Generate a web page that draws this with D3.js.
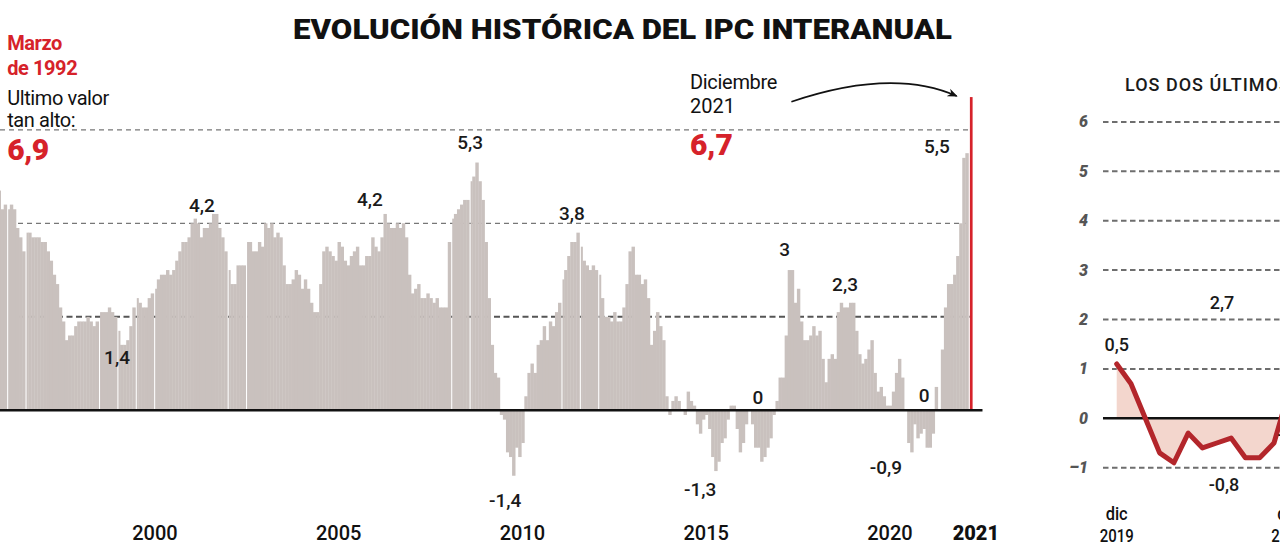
<!DOCTYPE html>
<html><head><meta charset="utf-8">
<script src="https://cdn.jsdelivr.net/npm/d3@7"></script>
<style>
body{margin:0;background:#fff}
svg{display:block}
text{font-family:Roboto,"Liberation Sans",sans-serif}
</style>
</head><body>
<svg id="c" width="1280" height="548"></svg>
<script>
// ---------- DATA (IPC interanual, %, mensual desde julio de 1995) ----------
const firstYear = 1995, firstMonth = 7;
const ipc1995 = [4.7, 4.3, 4.4, 4.3, 4.4, 4.3];
const ipc1996 = [3.9, 3.7, 3.4, 3.8, 3.8, 3.7, 3.7, 3.7, 3.6, 3.6, 3.4, 3.2];
const ipc1997 = [2.9, 2.7, 2.2, 1.9, 1.5, 1.6, 1.6, 1.8, 1.9, 1.9, 1.9, 2.0];
const ipc1998 = [1.9, 1.8, 1.9, 2.1, 2.1, 2.1, 2.2, 2.1, 2.0, 1.7, 1.4, 1.4];
const ipc1999 = [1.5, 1.8, 2.2, 2.4, 2.3, 2.2, 2.2, 2.4, 2.5, 2.6, 2.8, 2.9];
const ipc2000 = [2.9, 3.0, 2.9, 3.0, 3.2, 3.4, 3.6, 3.6, 3.7, 4.0, 4.1, 4.0];
const ipc2001 = [3.7, 3.9, 3.9, 4.0, 4.2, 4.2, 3.9, 3.7, 3.4, 3.0, 2.7, 2.7];
const ipc2002 = [3.1, 3.1, 3.1, 3.6, 3.6, 3.4, 3.4, 3.6, 3.5, 4.0, 3.9, 4.0];
const ipc2003 = [3.7, 3.8, 3.7, 3.1, 2.7, 2.7, 2.8, 3.0, 2.9, 2.6, 2.8, 2.6];
const ipc2004 = [2.3, 2.1, 2.1, 2.7, 3.4, 3.5, 3.4, 3.3, 3.2, 3.6, 3.5, 3.2];
const ipc2005 = [3.1, 3.3, 3.4, 3.5, 3.1, 3.1, 3.3, 3.3, 3.7, 3.5, 3.4, 3.7];
const ipc2006 = [4.2, 4.0, 3.9, 3.9, 4.0, 3.9, 4.0, 3.7, 2.9, 2.5, 2.6, 2.7];
const ipc2007 = [2.4, 2.4, 2.5, 2.4, 2.3, 2.4, 2.2, 2.2, 2.2, 3.6, 4.1, 4.2];
const ipc2008 = [4.3, 4.4, 4.5, 4.5, 4.9, 5.0, 5.3, 4.9, 4.5, 3.6, 2.4, 1.4];
const ipc2009 = [0.8, 0.7, -0.1, -0.2, -0.9, -1.0, -1.4, -0.8, -1.0, -0.7, 0.3, 0.8];
const ipc2010 = [1.0, 0.8, 1.4, 1.5, 1.8, 1.5, 1.9, 1.8, 2.1, 2.3, 2.8, 3.0];
const ipc2011 = [3.3, 3.6, 3.6, 3.8, 3.5, 3.2, 3.1, 3.0, 3.1, 3.0, 2.9, 2.4];
const ipc2012 = [2.0, 2.0, 1.9, 2.1, 1.9, 1.9, 2.2, 2.7, 3.4, 3.5, 2.9, 2.9];
const ipc2013 = [2.7, 2.8, 2.4, 1.4, 1.7, 2.1, 1.8, 1.5, 0.3, -0.1, 0.2, 0.3];
const ipc2014 = [0.2, 0.0, -0.1, 0.4, 0.2, 0.1, -0.3, -0.5, -0.2, -0.1, -0.4, -1.0];
const ipc2015 = [-1.3, -1.1, -0.7, -0.6, -0.2, 0.1, 0.1, -0.4, -0.9, -0.7, -0.3, 0.0];
const ipc2016 = [-0.3, -0.8, -0.8, -1.1, -1.0, -0.8, -0.6, -0.1, 0.2, 0.7, 0.7, 1.6];
const ipc2017 = [3.0, 3.0, 2.3, 2.6, 1.9, 1.5, 1.5, 1.6, 1.8, 1.6, 1.7, 1.1];
const ipc2018 = [0.6, 1.1, 1.2, 1.1, 2.1, 2.3, 2.2, 2.2, 2.3, 2.3, 1.7, 1.2];
const ipc2019 = [1.0, 1.1, 1.3, 1.5, 0.8, 0.4, 0.5, 0.3, 0.1, 0.1, 0.4, 0.8];
const ipc2020 = [1.1, 0.7, 0.0, -0.7, -0.9, -0.3, -0.6, -0.5, -0.4, -0.8, -0.8, -0.5];
const ipc2021 = [0.5, 0.0, 1.3, 2.2, 2.7, 2.7, 2.9, 3.3, 4.0, 5.4, 5.5, 6.7];
// months where the printed columns show a thin white separator
const gapMonths = ["1995-10","1996-04","1998-04","1998-10","1999-04","1999-10","2001-10","2002-04","2007-11","2008-05","2010-11","2011-05","2011-11"];
const gridValues = [2, 4, 6];
const tickYears = [2000, 2005, 2010, 2015, 2020];
const lastYearLabel = "2021";

// inset "los dos últimos años"
const insetValues = [1.1, 0.7, 0.0, -0.7, -0.9, -0.3, -0.6, -0.5, -0.4, -0.8, -0.8, -0.5, 0.5, 0.0, 1.3, 2.2, 2.7, 2.7, 2.9, 3.3, 4.0, 5.4, 5.5, 6.7];
const insetTicks = [-1, 0, 1, 2, 3, 4, 5, 6];
const insetXLabels = [["dic", "2019", 0], ["dic", "2020", 12], ["dic", "2021", 24]];

// ---------- BUILD ----------
const allValues = [].concat(ipc1995, ipc1996, ipc1997, ipc1998, ipc1999, ipc2000, ipc2001, ipc2002, ipc2003, ipc2004,
  ipc2005, ipc2006, ipc2007, ipc2008, ipc2009, ipc2010, ipc2011, ipc2012, ipc2013, ipc2014, ipc2015, ipc2016,
  ipc2017, ipc2018, ipc2019, ipc2020, ipc2021);
const series = allValues.map((v, i) => {
  const m = firstMonth - 1 + i;
  const yr = firstYear + Math.floor(m / 12), mo = m % 12 + 1;
  const key = yr + "-" + String(mo).padStart(2, "0");
  return { t: yr + (mo - 1) / 12, key, v, gap: gapMonths.includes(key) };
});
const last = series[series.length - 1];

const svg = d3.select("#c");
const RED = "#d6222a";

const x = d3.scaleLinear().domain([1995.5, 2022]).range([-2.41, 971.46]);
const y = d3.scaleLinear().domain([0, 6]).range([410.3, 129.8]);
const bw = x(2000 + 1 / 12) - x(2000);

// title
svg.append("text").attr("x", 293).attr("y", 39)
  .attr("textLength", 659).attr("lengthAdjust", "spacingAndGlyphs")
  .style("font-size", "27px").style("font-weight", 900).attr("fill", "#111")
  .text("EVOLUCIÓN HISTÓRICA DEL IPC INTERANUAL");

// gridlines (behind bars)
const gMain = svg.append("g");
gMain.selectAll("line.grid").data(gridValues).join("line")
  .attr("x1", 0).attr("x2", x(last.t + 0.03))
  .attr("y1", d => y(d)).attr("y2", d => y(d))
  .attr("stroke", d => d === 2 ? "#555" : "#777")
  .attr("stroke-width", d => d === 2 ? 2 : 1.3)
  .attr("stroke-dasharray", d => d === 2 ? "6,3.5" : "5,4");

// bars
gMain.selectAll("rect.bar").data(series.slice(0, -1)).join("rect")
  .attr("x", d => x(d.t) + (d.gap ? 1.4 : 0))
  .attr("width", d => bw + 0.35 - (d.gap ? 1.4 : 0))
  .attr("y", d => y(Math.max(0, d.v)))
  .attr("height", d => Math.abs(y(d.v) - y(0)))
  .attr("fill", "#c9c1be");

// last month, red
gMain.append("rect")
  .attr("x", x(last.t) + 1.5).attr("width", 2.7)
  .attr("y", y(last.v)).attr("height", y(0) - y(last.v))
  .attr("fill", RED);

// zero line
gMain.append("line").attr("x1", 0).attr("x2", x(2022.3)).attr("y1", y(0)).attr("y2", y(0))
  .attr("stroke", "#111").attr("stroke-width", 2.6);

// year labels (printed slightly before each January)
svg.selectAll("text.year").data(tickYears).join("text")
  .attr("x", d => x(d - 0.22)).attr("y", 540).attr("text-anchor", "middle")
  .style("font-size", "20px").style("font-weight", 500).attr("fill", "#111").text(d => d);
svg.append("text").attr("x", x(2022.12)).attr("y", 540).attr("text-anchor", "middle")
  .style("font-size", "20px").style("font-weight", 900).attr("fill", "#111").text(lastYearLabel);

// value annotations (anchored in data units)
const notes = [
  { s: "4,2", t: 2001.06, v: 4.25 }, { s: "1,4", t: 1998.75, v: 0.99 },
  { s: "4,2", t: 2005.63, v: 4.37 }, { s: "5,3", t: 2008.36, v: 5.59 },
  { s: "3,8", t: 2011.13, v: 4.07 }, { s: "-1,4", t: 2009.31, v: -2.07 },
  { s: "-1,3", t: 2014.62, v: -1.83 }, { s: "0", t: 2016.19, v: 0.13 },
  { s: "3", t: 2016.92, v: 3.30 }, { s: "2,3", t: 2018.56, v: 2.55 },
  { s: "-0,9", t: 2019.67, v: -1.36 }, { s: "0", t: 2020.71, v: 0.18 },
  { s: "5,5", t: 2021.06, v: 5.50 }
];
svg.selectAll("text.note").data(notes).join("text")
  .attr("x", d => x(d.t)).attr("y", d => y(d.v)).attr("text-anchor", "middle")
  .style("font-size", "19px").style("font-weight", 500).attr("fill", "#1a1a1a").text(d => d.s);

// left annotation
const xl = x(1995.76);
const left = [
  { s: "Marzo", v: 7.71, c: RED, w: 700, f: 20 },
  { s: "de 1992", v: 7.18, c: RED, w: 700, f: 20 },
  { s: "Ultimo valor", v: 6.53, c: "#111", w: 400, f: 20 },
  { s: "tan alto:", v: 6.06, c: "#111", w: 400, f: 20 },
  { s: "6,9", v: 5.36, c: RED, w: 900, f: 30 }
];
svg.selectAll("text.left").data(left).join("text")
  .attr("x", xl).attr("y", d => y(d.v)).attr("fill", d => d.c)
  .style("font-size", d => d.f + "px").style("font-weight", d => d.w)
  .style("letter-spacing", "-0.4px").text(d => d.s);

// December 2021 annotation
const xd = x(2014.34);
svg.append("text").attr("x", xd).attr("y", y(6.87)).style("font-size", "20px").attr("fill", "#111").style("letter-spacing", "-0.3px").text("Diciembre");
svg.append("text").attr("x", xd).attr("y", y(6.36)).style("font-size", "20px").attr("fill", "#111").text("2021");
svg.append("text").attr("x", xd).attr("y", y(5.47)).style("font-size", "30px").style("font-weight", 900).attr("fill", RED).text("6,7");

svg.append("defs").append("marker").attr("id", "ah").attr("viewBox", "0 0 10 10")
  .attr("refX", 9).attr("refY", 5).attr("markerWidth", 10).attr("markerHeight", 10)
  .attr("markerUnits", "userSpaceOnUse").attr("orient", "auto")
  .append("path").attr("d", "M0,1 L10,5 L0,9 L3,5 Z").attr("fill", "#111");
const a0 = [x(2017.1), y(6.6)], ac = [x(2019.85), y(7.33)], a1 = [x(2021.6), y(6.72)];
svg.append("path").attr("d", `M${a0[0]},${a0[1]} Q${ac[0]},${ac[1]} ${a1[0]},${a1[1]}`)
  .attr("fill", "none").attr("stroke", "#111").attr("stroke-width", 1.6).attr("marker-end", "url(#ah)");

// ---------- INSET ----------
const xi = d3.scaleLinear().domain([0, 1]).range([1116.7, 1131.0]);
const yi = d3.scaleLinear().domain([0, 1]).range([418.3, 368.9]);
const gi = svg.append("g");
gi.append("text").attr("x", 1125).attr("y", 91).style("font-size", "18px").style("font-weight", 500)
  .style("letter-spacing", "1px").attr("fill", "#1a1a1a").text("LOS DOS ÚLTIMOS AÑOS");
gi.selectAll("line.ig").data(insetTicks.filter(d => d !== 0)).join("line")
  .attr("x1", 1103).attr("x2", 1290).attr("y1", d => yi(d)).attr("y2", d => yi(d))
  .attr("stroke", "#6e6e6e").attr("stroke-width", 2).attr("stroke-dasharray", "5.5,3.5");
gi.selectAll("text.iy").data(insetTicks).join("text")
  .attr("x", 1088).attr("y", d => yi(d) + 5.5).attr("text-anchor", "end")
  .style("font-size", "16px").style("font-weight", 900).style("font-style", "italic")
  .attr("fill", "#555").text(d => d < 0 ? "–" + Math.abs(d) : d);
const pts = insetValues.map((v, i) => [i, v]);
gi.append("path").datum(pts)
  .attr("d", d3.area().x(d => xi(d[0])).y0(yi(0)).y1(d => yi(d[1])))
  .attr("fill", "#f3d6cd");
gi.append("line").attr("x1", 1103).attr("x2", 1290).attr("y1", yi(0)).attr("y2", yi(0))
  .attr("stroke", "#111").attr("stroke-width", 2.6);
gi.append("path").datum(pts)
  .attr("d", d3.line().x(d => xi(d[0])).y(d => yi(d[1])))
  .attr("fill", "none").attr("stroke", "#b3262b").attr("stroke-width", 5)
  .attr("stroke-linejoin", "round").attr("stroke-linecap", "round");
const inotes = [
  { s: "0,5", i: 0.0, v: 1.36, a: "middle" }, { s: "2,7", i: 7.36, v: 2.21, a: "middle" },
  { s: "-0,8", i: 7.5, v: -1.47, a: "middle" }, { s: "-0,5", i: 11.25, v: -0.46, a: "start" }
];
gi.selectAll("text.in").data(inotes).join("text")
  .attr("x", d => xi(d.i)).attr("y", d => yi(d.v)).attr("text-anchor", d => d.a)
  .style("font-size", "18px").style("font-weight", 500).attr("fill", "#1a1a1a").text(d => d.s);
insetXLabels.forEach(([a, b, i]) => {
  gi.append("text").attr("x", xi(i)).attr("y", 520).attr("text-anchor", "middle")
    .style("font-size", "18px").style("font-weight", 500).attr("fill", "#111")
    .attr("textLength", 22).attr("lengthAdjust", "spacingAndGlyphs").text(a);
  gi.append("text").attr("x", xi(i)).attr("y", 542).attr("text-anchor", "middle")
    .style("font-size", "18px").style("font-weight", 500).attr("fill", "#111")
    .attr("textLength", 34).attr("lengthAdjust", "spacingAndGlyphs").text(b);
});
</script>
</body></html>
